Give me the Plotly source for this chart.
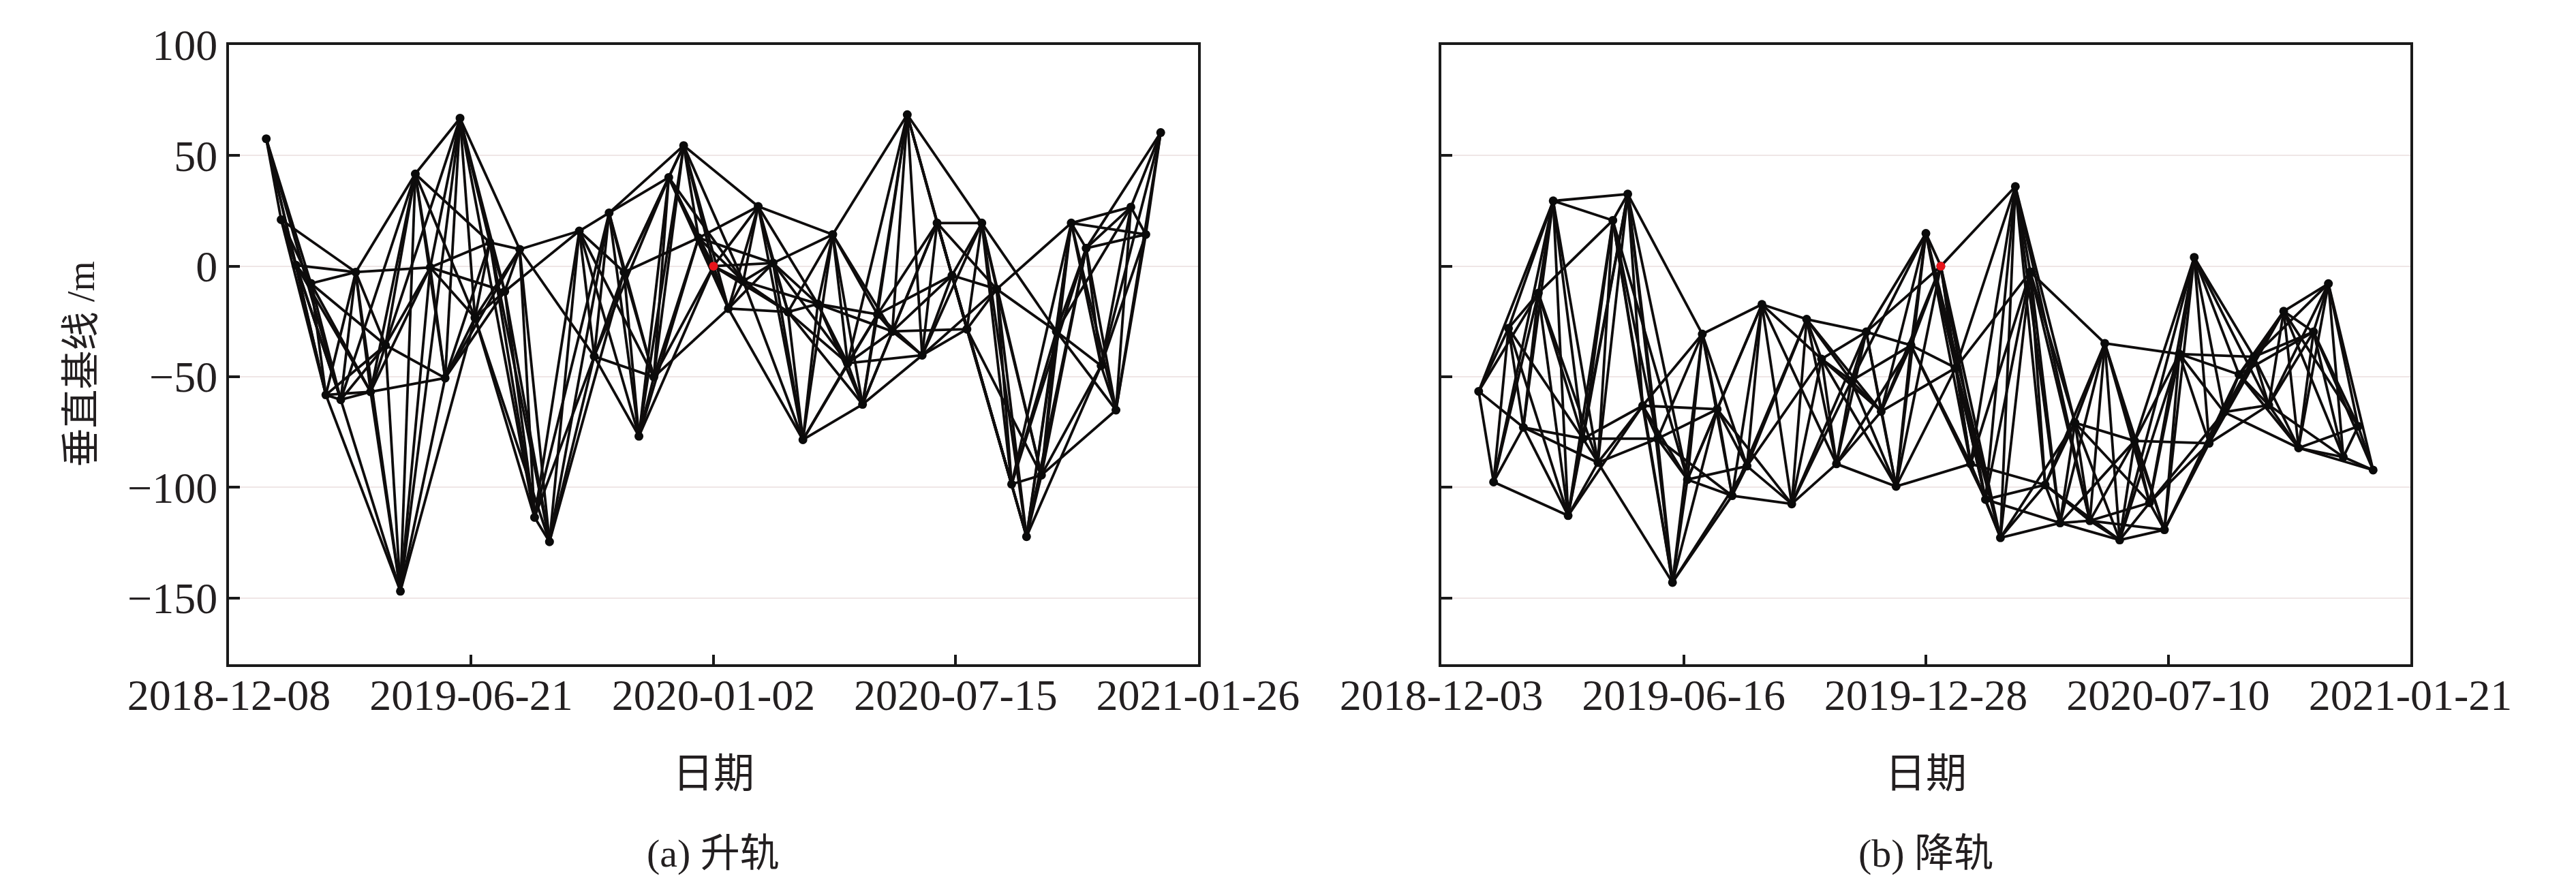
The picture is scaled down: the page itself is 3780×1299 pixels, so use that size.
import plotly.graph_objects as go
import pandas as pd

# ---------------- data ----------------
# (a) ascending track: acquisition dates and perpendicular baseline (m)
asc_dates = [
    "2019-01-07", "2019-01-19", "2019-01-31", "2019-02-12", "2019-02-24", "2019-03-08",
    "2019-03-20", "2019-04-01", "2019-04-13", "2019-04-25", "2019-05-07", "2019-05-19",
    "2019-05-31", "2019-06-12", "2019-06-24", "2019-07-06", "2019-07-18", "2019-07-30",
    "2019-08-11", "2019-08-23", "2019-09-16", "2019-09-28", "2019-10-10", "2019-10-22",
    "2019-11-03", "2019-11-15", "2019-11-27", "2019-12-09", "2019-12-21", "2020-01-02",
    "2020-01-14", "2020-01-26", "2020-02-07", "2020-02-19", "2020-03-02", "2020-03-14",
    "2020-03-26", "2020-04-07", "2020-04-19", "2020-05-01", "2020-05-13", "2020-05-25",
    "2020-06-06", "2020-06-18", "2020-06-30", "2020-07-12", "2020-07-24", "2020-08-05",
    "2020-08-17", "2020-08-29", "2020-09-10", "2020-09-22", "2020-10-04", "2020-10-16",
    "2020-10-28", "2020-11-09", "2020-11-21", "2020-12-03", "2020-12-15", "2020-12-27",
]
asc_bperp = [
    57.6, 21.0, 0.4, -7.8, -58.2, -60.4,
    -2.7, -56.8, -35.7, -147.0, 41.7, -0.6,
    -50.6, 66.9, -23.3, 10.7, -11.4, 7.6,
    -113.6, -124.6, 15.9, -40.8, 24.1, -2.7,
    -76.9, -50.1, 40.1, 54.5, 12.8, 0.0,
    -19.2, -6.8, 27.0, 1.4, -20.7, -78.5,
    -17.1, 14.3, -43.9, -62.5, -21.8, -29.5,
    68.5, -40.3, 19.5, -4.2, -28.5, 19.5,
    -10.4, -98.6, -122.3, -94.5, -29.5, 19.5,
    8.1, -45.0, -65.1, 26.7, 14.3, 60.4,
]
asc_ref_date = "2020-01-02"

# (b) descending track
des_dates = [
    "2019-01-02", "2019-01-14", "2019-01-26", "2019-02-07", "2019-02-19", "2019-03-03",
    "2019-03-15", "2019-03-27", "2019-04-08", "2019-04-20", "2019-05-02", "2019-05-14",
    "2019-05-26", "2019-06-07", "2019-06-19", "2019-07-01", "2019-07-13", "2019-07-25",
    "2019-08-06", "2019-08-18", "2019-09-11", "2019-09-23", "2019-10-05", "2019-10-17",
    "2019-10-29", "2019-11-10", "2019-11-22", "2019-12-04", "2019-12-16", "2019-12-28",
    "2020-01-09", "2020-01-21", "2020-02-02", "2020-02-14", "2020-02-26", "2020-03-09",
    "2020-03-21", "2020-04-02", "2020-04-14", "2020-04-26", "2020-05-08", "2020-05-20",
    "2020-06-01", "2020-06-13", "2020-06-25", "2020-07-07", "2020-07-19", "2020-07-31",
    "2020-08-12", "2020-08-24", "2020-09-05", "2020-09-17", "2020-09-29", "2020-10-11",
    "2020-10-23", "2020-11-04", "2020-11-16", "2020-11-28", "2020-12-10", "2020-12-22",
]
des_bperp = [
    -56.6, -97.6, -28.1, -72.9, -12.2, 29.5,
    -112.8, -78.0, -88.8, 20.7, 32.6, -63.1,
    -78.0, -143.0, -96.5, -30.7, -64.7, -103.8,
    -90.4, -17.3, -107.5, -24.0, -42.0, -89.4,
    -51.8, -29.7, -65.7, -99.6, -35.8, 14.8,
    0.0, -46.0, -89.4, -105.5, -122.8, 36.0,
    -2.6, -98.9, -116.1, -70.8, -115.1, -34.9,
    -123.8, -79.0, -107.0, -119.2, -39.7, 4.0,
    -80.1, -66.0, -49.0, -41.0, -62.8, -20.4,
    -82.2, -29.7, -7.9, -86.3, -72.4, -92.2,
]
des_ref_date = "2020-01-09"

# temporal baseline threshold of the interferogram network (days)
max_temporal_baseline = 60

asc_ticks = ["2018-12-08", "2019-06-21", "2020-01-02", "2020-07-15", "2021-01-26"]
des_ticks = ["2018-12-03", "2019-06-16", "2019-12-28", "2020-07-10", "2021-01-21"]
y_ticks = [-150, -100, -50, 0, 50, 100]

y_title = "垂直基线 /m"
x_title = "日期"
captions = ["(a) 升轨", "(b) 降轨"]

# ---------------- figure ----------------
LINE = "#0e0c0c"
FONT = "Liberation Serif, Noto Sans CJK SC, serif"


def network(dates, vals):
    t = pd.to_datetime(dates)
    xs, ys = [], []
    for i in range(len(dates)):
        for j in range(i + 1, len(dates)):
            if (t[j] - t[i]).days <= max_temporal_baseline:
                xs += [dates[i], dates[j], None]
                ys += [vals[i], vals[j], None]
    return xs, ys


fig = go.Figure()
panels = [
    (asc_dates, asc_bperp, asc_ref_date, "x", "y"),
    (des_dates, des_bperp, des_ref_date, "x2", "y2"),
]
for dates, vals, ref, xa, ya in panels:
    ex, ey = network(dates, vals)
    fig.add_trace(go.Scatter(x=ex, y=ey, mode="lines", xaxis=xa, yaxis=ya,
                             line=dict(color=LINE, width=3.8), hoverinfo="skip",
                             showlegend=False))
    fig.add_trace(go.Scatter(x=dates, y=vals, mode="markers", xaxis=xa, yaxis=ya,
                             marker=dict(color="#0a0a0a", size=13), showlegend=False))
    ri = dates.index(ref)
    fig.add_trace(go.Scatter(x=[dates[ri]], y=[vals[ri]], mode="markers", xaxis=xa, yaxis=ya,
                             marker=dict(color="#e8141b", size=13), showlegend=False))

axis_common = dict(showline=True, linecolor="#1a1a1a", linewidth=4, mirror=True,
                   ticks="inside", tickcolor="#1a1a1a", tickwidth=4,
                   zeroline=False, tickfont=dict(family=FONT, size=64, color="#231f20"))

fig.update_layout(
    width=3780, height=1299,
    paper_bgcolor="white", plot_bgcolor="white",
    margin=dict(l=328, r=251, t=58, b=332),
    font=dict(family=FONT, color="#231f20"),
    xaxis=dict(domain=[0, 0.4442], type="date", range=["2018-12-08", "2021-01-26"],
               tickvals=asc_ticks, ticktext=asc_ticks, ticklen=14, showgrid=False,
               ticklabelstandoff=-14, anchor="y", **axis_common),
    xaxis2=dict(domain=[0.5558, 1], type="date", range=["2018-12-03", "2021-01-21"],
                tickvals=des_ticks, ticktext=des_ticks, ticklen=14, showgrid=False,
                ticklabelstandoff=-14, anchor="y2", **axis_common),
    yaxis=dict(range=[-180, 100], tickvals=y_ticks, ticklen=16, showgrid=True,
               gridcolor="#efe6e6", gridwidth=2, anchor="x", **axis_common),
    yaxis2=dict(range=[-180, 100], tickvals=y_ticks, ticklen=16, showgrid=True,
                gridcolor="#efe6e6", gridwidth=2, showticklabels=False, anchor="x2",
                **axis_common),
)

fig.add_annotation(text=y_title, xref="paper", yref="paper", x=-0.068, y=0.485,
                   textangle=-90, showarrow=False,
                   font=dict(family=FONT, size=57, color="#231f20"),
                   xanchor="center", yanchor="middle")
for xc, cap in zip([0.2221, 0.7779], captions):
    fig.add_annotation(text=x_title, xref="paper", yref="paper", x=xc, y=-0.177,
                       showarrow=False, font=dict(family=FONT, size=60, color="#231f20"),
                       xanchor="center", yanchor="middle")
    fig.add_annotation(text=cap, xref="paper", yref="paper", x=xc, y=-0.305,
                       showarrow=False, font=dict(family=FONT, size=58, color="#231f20"),
                       xanchor="center", yanchor="middle")

fig.write_html("out.html")
